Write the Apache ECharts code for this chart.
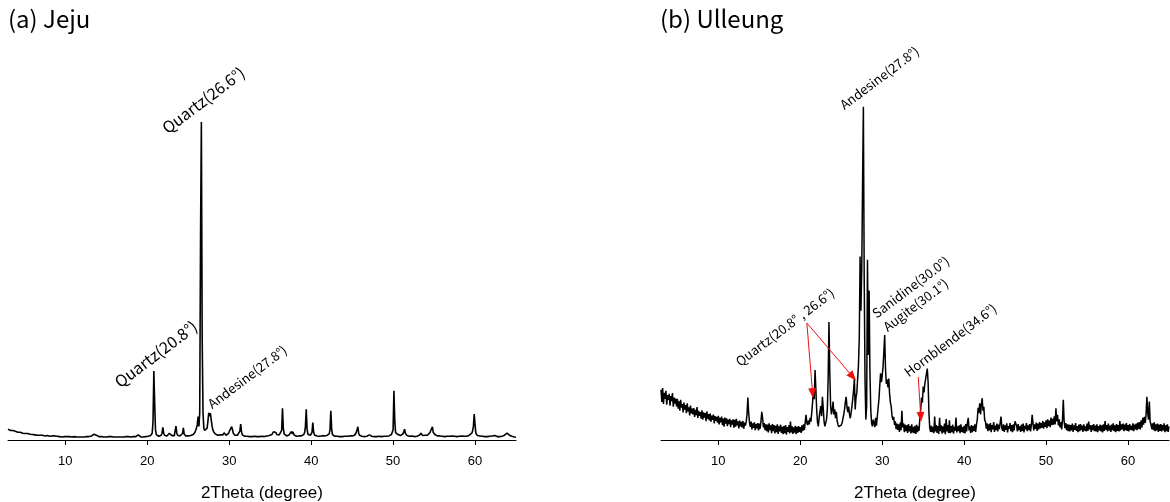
<!DOCTYPE html>
<html>
<head>
<meta charset="utf-8">
<script src="https://cdn.jsdelivr.net/npm/echarts@6/dist/echarts.min.js"></script>
<style>
  html, body { margin: 0; padding: 0; background: #fff; }
  #chart { width: 1170px; height: 502px; }
</style>
</head>
<body>
<div id="chart"></div>
<script>
(function (window, document) {
    'use strict';

    // 2theta grid of both scans: 3.0 .. 65.0 deg, 0.1 deg step
    var xStart = 3;
    var xStep = 0.1;
    var tickValues = [10, 20, 30, 40, 50, 60];

    // (a) Jeju, one row per degree
    var jejuIntensity = [
        3.2, 3.0, 3.1, 2.8, 2.9, 2.7, 2.8, 2.6, 2.5, 2.6,
        2.4, 2.5, 2.3, 2.4, 2.2, 2.3, 2.1, 2.2, 2.0, 2.1,
        2.0, 1.9, 2.0, 1.8, 1.9, 1.7, 1.8, 1.7, 1.6, 1.7,
        1.6, 1.5, 1.6, 1.5, 1.4, 1.5, 1.4, 1.5, 1.3, 1.4,
        1.4, 1.3, 1.4, 1.2, 1.3, 1.2, 1.3, 1.2, 1.3, 1.1,
        1.2, 1.1, 1.2, 1.1, 1.2, 1.0, 1.1, 1.2, 1.0, 1.1,
        1.1, 1.0, 1.1, 1.0, 1.1, 1.0, 0.9, 1.0, 1.1, 1.0,
        1.0, 0.9, 1.0, 1.0, 0.9, 1.0, 0.9, 1.0, 0.9, 1.0,
        0.9, 1.0, 0.9, 1.0, 0.9, 0.9, 1.0, 0.9, 1.0, 0.9,
        0.9, 1.0, 0.9, 0.9, 1.0, 0.9, 1.0, 1.0, 0.9, 1.0,
        1.0, 1.1, 1.2, 1.4, 1.5, 1.7, 1.8, 1.6, 1.4, 1.2,
        1.1, 1.0, 1.0, 0.9, 1.0, 0.9, 1.0, 0.9, 0.9, 1.0,
        0.9, 1.0, 0.9, 1.0, 0.9, 0.9, 1.0, 0.9, 1.0, 0.9,
        0.9, 1.0, 0.9, 0.9, 1.0, 0.9, 1.0, 0.9, 0.9, 1.0,
        0.9, 0.9, 1.0, 0.9, 1.0, 0.9, 0.9, 1.0, 0.9, 1.0,
        0.9, 1.0, 0.9, 1.0, 0.9, 1.0, 1.0, 1.1, 1.2, 1.5,
        1.1, 1.0, 0.9, 1.0, 1.0, 0.9, 1.0, 1.1, 1.0, 1.1,
        1.0, 1.1, 1.2, 1.1, 1.3, 1.5, 2.0, 5.5, 20.3, 11.0,
        3.0, 1.6, 1.3, 1.2, 1.1, 1.2, 1.2, 1.4, 2.0, 3.7,
        2.0, 1.4, 1.2, 1.1, 1.2, 1.3, 1.5, 2.0, 2.4, 1.6,
        1.3, 1.2, 1.2, 1.3, 1.6, 4.1, 2.0, 1.4, 1.2, 1.3,
        1.2, 1.3, 1.5, 1.9, 3.6, 1.8, 1.3, 1.2, 1.2, 1.3,
        1.2, 1.3, 1.2, 1.3, 1.4, 1.5, 1.6, 1.8, 2.2, 2.8,
        3.5, 4.5, 6.9, 4.0, 8.0, 60.0, 93.5, 30.0, 8.0, 3.5,
        2.8, 2.5, 2.6, 3.5, 5.5, 8.0, 7.0, 7.9, 6.0, 4.2,
        3.0, 2.4, 2.0, 1.8, 1.6, 1.5, 1.4, 1.5, 1.4, 1.5,
        1.4, 1.3, 1.5, 1.7, 2.1, 1.6, 1.4, 1.5, 1.6, 1.9,
        2.4, 3.0, 3.5, 3.9, 3.0, 2.0, 1.5, 1.4, 1.3, 1.4,
        1.4, 1.5, 1.8, 2.6, 4.7, 2.4, 1.5, 1.3, 1.2, 1.1,
        1.1, 1.0, 1.1, 1.0, 1.1, 1.0, 1.0, 1.1, 1.0, 1.1,
        1.0, 1.1, 1.0, 1.1, 1.0, 1.1, 1.0, 1.0, 1.1, 1.0,
        1.1, 1.0, 1.1, 1.0, 1.1, 1.1, 1.2, 1.1, 1.2, 1.3,
        1.3, 1.4, 1.6, 1.8, 2.4, 2.9, 2.8, 2.2, 1.6, 1.4,
        1.4, 1.5, 1.6, 1.9, 2.8, 9.3, 3.5, 1.8, 1.4, 1.3,
        1.2, 1.3, 1.4, 1.5, 1.8, 1.6, 2.5, 1.8, 2.4, 1.5,
        1.3, 1.2, 1.1, 1.2, 1.1, 1.2, 1.1, 1.2, 1.2, 1.3,
        1.4, 1.6, 2.2, 4.0, 9.0, 3.2, 1.7, 1.4, 1.3, 1.4,
        1.6, 2.2, 5.1, 2.4, 1.5, 1.3, 1.2, 1.2, 1.1, 1.2,
        1.1, 1.2, 1.1, 1.2, 1.1, 1.2, 1.2, 1.1, 1.2, 1.3,
        1.4, 1.5, 1.8, 3.0, 8.6, 3.2, 1.6, 1.3, 1.2, 1.1,
        1.1, 1.0, 1.1, 1.0, 1.1, 1.0, 1.0, 1.1, 1.0, 1.1,
        1.0, 1.1, 1.0, 1.1, 1.1, 1.0, 1.1, 1.2, 1.1, 1.3,
        1.2, 1.3, 1.3, 1.4, 1.6, 2.2, 3.0, 3.9, 2.0, 1.4,
        1.3, 1.2, 1.1, 1.2, 1.1, 1.0, 1.1, 1.0, 1.1, 1.1,
        1.2, 1.5, 1.3, 1.2, 1.1, 1.0, 1.1, 1.0, 1.1, 1.0,
        1.0, 1.1, 1.0, 1.1, 1.0, 1.1, 1.0, 1.1, 1.0, 1.1,
        1.1, 1.2, 1.1, 1.2, 1.3, 1.2, 1.3, 1.4, 1.6, 2.0,
        3.0, 14.5, 6.0, 2.2, 2.0, 1.8, 1.6, 1.8, 1.4, 1.3,
        1.4, 1.5, 1.8, 2.4, 3.2, 2.0, 1.5, 1.3, 1.2, 1.2,
        1.1, 1.2, 1.1, 1.2, 1.1, 1.1, 1.0, 1.1, 1.0, 1.1,
        1.1, 1.2, 1.4, 1.6, 2.0, 1.5, 1.3, 1.4, 1.8, 1.4,
        1.3, 1.3, 1.4, 1.6, 1.8, 2.2, 2.8, 3.3, 3.9, 2.2,
        1.8, 1.6, 1.4, 1.3, 1.2, 1.2, 1.1, 1.2, 1.1, 1.2,
        1.1, 1.0, 1.1, 1.0, 1.1, 1.0, 1.1, 1.0, 1.0, 1.1,
        1.2, 1.4, 1.2, 1.1, 1.0, 1.1, 1.0, 1.1, 1.0, 1.1,
        1.0, 1.1, 1.0, 1.1, 1.2, 1.1, 1.0, 1.1, 1.0, 1.1,
        1.1, 1.2, 1.3, 1.4, 1.5, 1.7, 2.0, 2.6, 4.0, 7.6,
        4.5, 2.0, 1.6, 1.3, 1.2, 1.1, 1.2, 1.1, 1.0, 1.1,
        1.0, 1.1, 1.0, 1.1, 1.0, 1.0, 1.1, 1.0, 1.1, 1.0,
        1.1, 1.2, 1.4, 1.6, 1.3, 1.2, 1.1, 1.0, 1.1, 1.0,
        1.0, 1.1, 1.0, 1.1, 1.2, 1.3, 1.4, 1.6, 1.9, 2.0,
        2.5, 1.8, 1.4, 1.3, 1.2, 1.1, 1.0, 1.0, 0.9, 0.9,
        0.8
    ];

    // (b) Ulleung, one row per degree
    var ulleungIntensity = [
        14.8, 11.2, 15.3, 10.6, 13.9, 12.1, 14.5, 10.4, 13.2, 11.8,
        13.6, 10.1, 12.9, 11.4, 13.8, 9.8, 12.5, 10.7, 12.2, 9.9,
        12.1, 9.2, 11.4, 8.6, 11.8, 9.5, 10.6, 8.1, 11.0, 8.9,
        10.3, 7.9, 10.8, 8.4, 9.6, 7.2, 10.1, 7.8, 9.2, 7.5,
        9.4, 6.8, 8.9, 7.3, 9.7, 6.5, 8.6, 7.1, 8.2, 6.3,
        8.7, 6.0, 8.1, 6.6, 7.9, 5.5, 8.4, 6.2, 7.6, 5.8,
        7.8, 5.4, 7.2, 5.9, 7.5, 4.9, 7.0, 5.6, 6.8, 5.1,
        7.1, 4.6, 6.5, 5.2, 6.9, 4.4, 6.3, 3.9, 6.6, 4.8,
        6.4, 4.1, 6.0, 4.7, 6.2, 3.8, 5.8, 4.5, 6.1, 3.6,
        5.9, 3.9, 6.2, 4.3, 5.5, 3.4, 5.7, 4.0, 5.3, 3.7,
        5.6, 3.3, 5.1, 4.2, 5.4, 7.5, 12.5, 8.0, 5.2, 3.9,
        5.4, 3.1, 4.9, 3.6, 5.2, 2.9, 4.7, 3.4, 5.0, 2.8,
        4.8, 3.3, 5.5, 8.3, 6.4, 3.7, 5.0, 2.9, 4.6, 2.6,
        4.5, 2.2, 4.9, 2.9, 4.3, 2.0, 4.7, 2.6, 4.4, 1.9,
        4.2, 2.3, 4.6, 1.8, 4.0, 2.5, 4.5, 2.1, 3.9, 1.7,
        4.1, 2.0, 4.4, 1.6, 3.8, 2.4, 4.3, 1.9, 5.4, 2.2,
        4.0, 1.8, 3.7, 2.2, 4.2, 1.7, 3.9, 2.1, 4.1, 2.4,
        3.8, 2.1, 4.3, 2.6, 4.6, 3.0, 5.2, 7.4, 5.0, 4.4,
        5.8, 4.6, 6.5, 5.4, 8.2, 11.0, 14.7, 12.0, 20.6, 15.0,
        9.0, 5.2, 4.0, 6.5, 8.4, 10.0, 7.0, 12.7, 9.4, 5.5,
        4.0, 3.5, 6.0, 9.0, 18.0, 34.7, 20.0, 10.0, 7.5, 9.0,
        11.3, 7.5, 9.0, 6.4, 8.3, 5.6, 4.5, 3.9, 4.2, 3.6,
        4.4, 5.0, 6.2, 7.5, 9.0, 11.2, 12.7, 9.6, 8.2, 9.8,
        7.6, 6.4, 8.0, 9.8, 12.0, 14.5, 18.1, 9.0, 12.5, 14.0,
        14.0, 22.0, 30.0, 54.0, 38.0, 50.0, 75.0, 98.0, 48.0, 18.0,
        6.0, 10.0, 53.0, 25.0, 44.0, 20.0, 9.0, 5.0, 4.0, 6.0,
        5.0, 3.8, 6.5, 4.2, 7.0, 9.5, 12.0, 16.0, 19.6, 17.0,
        19.0, 21.5, 26.0, 30.9, 21.0, 16.5, 17.8, 15.5, 18.1, 13.5,
        11.0, 9.8, 7.0, 5.9, 6.8, 4.4, 5.5, 3.2, 4.8, 3.0,
        4.6, 2.4, 5.1, 2.9, 8.6, 3.7, 4.9, 2.3, 4.5, 2.6,
        4.3, 2.1, 4.7, 2.5, 4.1, 1.9, 4.6, 2.2, 3.9, 2.0,
        4.2, 1.8, 4.5, 2.3, 4.0, 2.7, 6.9, 9.0, 12.5, 11.0,
        15.7, 14.0, 16.5, 18.0, 19.5, 21.0, 17.0, 8.0, 3.5, 2.4,
        4.2, 2.3, 3.9, 2.0, 6.9, 2.5, 4.4, 2.1, 4.1, 1.8,
        6.5, 2.6, 4.3, 1.9, 4.0, 2.2, 4.8, 1.7, 6.2, 2.5,
        4.4, 2.1, 5.8, 2.0, 4.1, 2.3, 4.5, 1.9, 3.9, 2.7,
        6.6, 2.2, 4.0, 2.6, 4.3, 2.0, 4.6, 2.4, 3.8, 2.1,
        4.2, 1.9, 4.7, 2.5, 5.1, 6.5, 2.8, 4.0, 2.1, 4.4,
        2.3, 4.1, 2.7, 4.6, 2.4, 4.5, 6.0, 9.5, 8.0, 10.8,
        7.5, 10.5, 12.3, 8.6, 9.8, 6.0, 5.4, 3.3, 4.9, 2.6,
        4.6, 2.8, 5.0, 2.3, 4.4, 3.1, 5.3, 2.4, 4.2, 2.9,
        4.8, 2.5, 4.5, 3.2, 5.2, 6.9, 3.5, 2.7, 4.6, 2.4,
        4.3, 3.0, 4.9, 2.2, 4.1, 3.3, 5.0, 2.6, 4.4, 2.3,
        4.6, 2.8, 5.5, 6.0, 4.2, 2.5, 4.7, 2.9, 4.0, 2.4,
        4.5, 2.7, 4.8, 2.2, 4.2, 3.1, 5.0, 2.6, 4.3, 2.9,
        4.7, 2.5, 4.4, 7.4, 4.9, 2.8, 4.6, 3.3, 5.1, 2.7,
        4.8, 3.1, 5.3, 3.4, 5.0, 3.6, 5.6, 3.3, 5.2, 3.9,
        5.8, 3.5, 6.1, 4.1, 5.7, 3.8, 6.6, 4.4, 6.2, 4.5,
        7.0, 4.6, 9.3, 5.5, 7.4, 4.3, 6.1, 3.7, 5.3, 3.1,
        6.0, 11.8, 5.5, 3.5, 5.0, 2.9, 4.6, 2.6, 4.5, 2.5,
        4.4, 2.8, 4.8, 2.4, 4.3, 3.0, 5.0, 2.7, 4.1, 2.3,
        4.5, 2.6, 4.7, 2.9, 4.2, 2.4, 4.6, 2.8, 4.0, 2.5,
        4.8, 2.7, 5.4, 3.1, 4.4, 2.4, 4.3, 2.9, 4.7, 2.6,
        4.2, 2.5, 4.6, 2.3, 4.1, 2.8, 4.5, 2.5, 4.3, 2.2,
        4.6, 2.7, 5.6, 3.0, 4.4, 2.5, 4.8, 2.8, 4.2, 2.4,
        4.5, 2.9, 4.9, 2.6, 4.3, 2.3, 4.7, 2.7, 4.4, 2.5,
        5.6, 2.8, 4.6, 3.1, 4.8, 2.6, 4.5, 2.9, 5.0, 2.7,
        4.4, 2.5, 4.7, 3.0, 4.2, 2.8, 4.9, 2.6, 4.5, 3.1,
        4.8, 2.9, 5.1, 3.3, 5.3, 3.1, 5.8, 3.7, 6.5, 4.5,
        6.8, 5.0, 7.4, 12.7, 8.0, 6.0, 11.3, 5.3, 4.6, 3.2,
        4.9, 2.9, 5.2, 2.6, 4.6, 2.8, 4.8, 2.4, 4.5, 2.7,
        4.7, 2.5, 4.4, 2.8, 4.9, 2.3, 4.3, 2.6, 4.6, 2.4,
        4.0
    ];

    // peak annotations: [text, 2theta, intensity]
    var jejuPeaks = [
        ['Quartz(26.6°)', 26.6, 93.5],
        ['Quartz(20.8°)', 20.8, 20.3],
        ['Andesine(27.8°)', 27.8, 8.0]
    ];
    var ulleungPeaks = [
        ['Andesine(27.8°)', 27.7, 98],
        ['Quartz(20.8° , 26.6°)', 20.8, 34.4],
        ['Sanidine(30.0°)', 30.3, 30.9],
        ['Augite(30.1°)', 30.3, 30.9],
        ['Hornblende(34.6°)', 34.4, 18.5]
    ];
    // arrows: [from, to]
    var ulleungArrows = [
        [[20.8, 34.4], [21.5, 13.8]],
        [[20.8, 34.4], [26.4, 18.6]],
        [[34.4, 18.5], [34.7, 6.8]]
    ];

    // where the text centre sits from its anchor on screen: [dx, dy, fontSize]
    var jejuLabelStyle = [[2, -22, 16], [2, -17, 16], [36, -36, 13]];
    var ulleungLabelStyle = [[16, -29, 13], [-22, 4, 13], [26, -48, 13], [31, -30, 13], [32, -37, 13]];
    var labelAngle = 37;

    var labelFont = '"Noto Sans CJK KR", "Noto Sans", sans-serif';
    var axisFont = '"Liberation Sans", Arial, sans-serif';

    function toPairs(values) {
        return values.map(function (v, i) {
            return [+(xStart + i * xStep).toFixed(1), v];
        });
    }

    // label offset is applied in the rotated frame, so turn the screen shift back
    function localOffset(dx, dy) {
        var r = labelAngle * Math.PI / 180;
        var c = Math.cos(r), s = Math.sin(r);
        return [dx * c - dy * s, dx * s + dy * c];
    }

    function peakMarks(peaks, styles) {
        return {
            symbol: 'circle',
            symbolSize: 1,
            silent: true,
            itemStyle: { color: 'transparent' },
            data: peaks.map(function (p, i) {
                var s = styles[i];
                return {
                    coord: [p[1], p[2]],
                    label: {
                        show: true,
                        position: 'inside',
                        formatter: p[0],
                        rotate: labelAngle,
                        offset: localOffset(s[0], s[1]),
                        fontSize: s[2],
                        fontFamily: labelFont,
                        color: '#000'
                    }
                };
            })
        };
    }

    function xAxis(gridIndex) {
        return {
            type: 'value',
            gridIndex: gridIndex,
            min: 3,
            max: 65,
            name: '2Theta (degree)',
            nameLocation: 'middle',
            nameGap: 45,
            nameTextStyle: { fontSize: 17, fontFamily: axisFont, color: '#000' },
            axisLine: { show: true, onZero: false, lineStyle: { color: '#000', width: 1 } },
            axisTick: { show: true, customValues: tickValues, length: 5, lineStyle: { color: '#000' } },
            axisLabel: { customValues: tickValues, fontSize: 13, fontFamily: axisFont, color: '#000', margin: 15 },
            splitLine: { show: false }
        };
    }

    function yAxis(gridIndex) {
        return { type: 'value', gridIndex: gridIndex, min: 0, max: 100, show: false };
    }

    var titleStyle = { fontSize: 24, fontWeight: 'normal', fontFamily: labelFont, color: '#000' };

    var chart = echarts.init(document.getElementById('chart'));
    chart.setOption({
        animation: false,
        backgroundColor: '#fff',
        title: [
            { text: '(a) Jeju', left: 8, top: 7, padding: 0, textStyle: titleStyle },
            { text: '(b) Ulleung', left: 660, top: 7, padding: 0, textStyle: titleStyle }
        ],
        grid: [
            { left: 8, top: 100, width: 508, height: 340, outerBoundsMode: 'none' },
            { left: 661, top: 100, width: 508, height: 340, outerBoundsMode: 'none' }
        ],
        xAxis: [xAxis(0), xAxis(1)],
        yAxis: [yAxis(0), yAxis(1)],
        series: [{
            type: 'line',
            xAxisIndex: 0,
            yAxisIndex: 0,
            data: toPairs(jejuIntensity),
            showSymbol: false,
            lineStyle: { color: '#000', width: 1.6 },
            markPoint: peakMarks(jejuPeaks, jejuLabelStyle)
        }, {
            type: 'line',
            xAxisIndex: 1,
            yAxisIndex: 1,
            data: toPairs(ulleungIntensity),
            showSymbol: false,
            lineStyle: { color: '#000', width: 1.5 },
            markPoint: peakMarks(ulleungPeaks, ulleungLabelStyle),
            markLine: {
                silent: true,
                symbol: ['none', 'triangle'],
                symbolSize: [8, 10],
                label: { show: false },
                lineStyle: { color: '#ee1111', width: 1, type: 'solid' },
                data: ulleungArrows.map(function (a) {
                    return [{ coord: a[0] }, { coord: a[1] }];
                })
            }
        }]
    });
})(window, document);
</script>
</body>
</html>
